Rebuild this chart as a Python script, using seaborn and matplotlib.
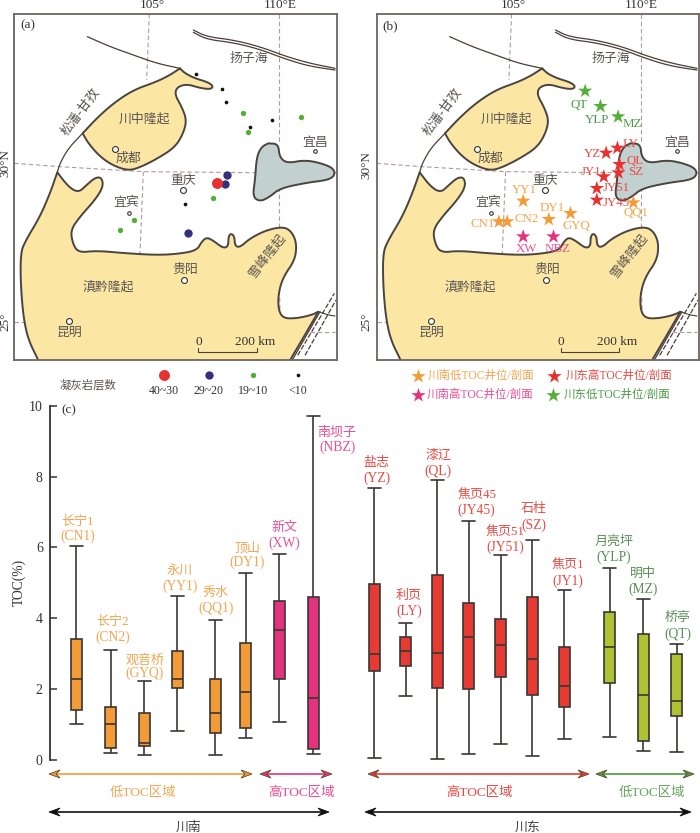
import numpy as np
import pandas as pd
import matplotlib
matplotlib.use("Agg")
import matplotlib.pyplot as plt
from matplotlib.patches import Polygon
import seaborn as sns

sns.set_theme(style="ticks")
FONT = ["Liberation Serif", "Noto Sans CJK SC", "DejaVu Sans"]
plt.rcParams["font.family"] = FONT

# ---------- box chart values ----------
wells = ["CN1", "CN2", "GYQ", "YY1", "QQ1", "DY1", "XW", "NBZ", "YZ", "LY", "QL",
         "JY45", "JY51", "SZ", "JY1", "YLP", "MZ", "QT"]
names = ["长宁1", "长宁2", "观音桥", "永川", "秀水", "顶山", "新文", "南坝子", "盐志", "利页", "漆辽",
         "焦页45", "焦页51", "石柱", "焦页1", "月亮坪", "明中", "桥亭"]
regions = ["sl"] * 6 + ["sh"] * 2 + ["eh"] * 7 + ["el"] * 3
toc_max = [6.05, 3.10, 2.22, 4.63, 3.96, 5.28, 5.82, 9.70, 7.69, 3.88, 7.89, 6.74, 5.80, 6.22, 4.80, 5.41, 4.55, 3.26]
toc_q3 = [3.41, 1.50, 1.34, 3.07, 2.30, 3.29, 4.48, 4.61, 4.97, 3.46, 5.22, 4.43, 3.98, 4.59, 3.19, 4.18, 3.57, 2.99]
toc_med = [2.28, 1.02, 0.48, 2.28, 1.33, 1.91, 3.67, 1.75, 2.99, 3.07, 3.01, 3.46, 3.25, 2.86, 2.10, 3.19, 1.83, 1.67]
toc_q1 = [1.40, 0.35, 0.39, 2.03, 0.77, 0.91, 2.28, 0.32, 2.51, 2.66, 2.02, 2.00, 2.35, 1.84, 1.51, 2.16, 0.53, 1.25]
toc_min = [1.02, 0.20, 0.13, 0.82, 0.14, 0.63, 1.08, 0.17, 0.06, 1.81, 0.03, 0.17, 0.44, 0.11, 0.59, 0.65, 0.24, 0.23]

box_x = [76.3, 110.7, 144, 177, 215.3, 245.7, 279.3, 313, 374, 405.7, 437.3, 468.7, 500.7, 532.3, 564, 609.7, 643, 676.7]
label_x = [78, 112.7, 144.7, 180, 216, 247, 284, 337, 376.7, 409, 438, 476.7, 505, 534, 568, 614, 643, 678]
name_y = [521.7, 621.7, 660.7, 571, 592.7, 548, 528, 432, 463, 596, 456, 495.7, 532.7, 509, 565.7, 541.7, 573.7, 618]
code_y = [536.7, 637, 673.5, 586.7, 608, 562.7, 543, 447, 478.7, 611, 471.7, 510, 547, 525, 581.7, 557, 589, 634]

BOX = {"sl": "#F39B36", "sh": "#E5327E", "eh": "#E63A33", "el": "#AEC233"}
LAB = {"sl": "#F4A650", "sh": "#EA4F93", "eh": "#E94A42", "el": "#5A8F58"}

# ---------- map outlines (panel a pixel grid) ----------
central_uplift = [(540, 205), (540, 205), (510, 225), (470, 245), (400, 270), (340, 310), (290, 355), (248, 400), (248, 400),
                  (265, 430), (300, 470), (340, 497), (385, 512), (420, 502), (470, 477), (525, 442), (550, 400),
                  (560, 360), (545, 320), (525, 285), (530, 262), (560, 252), (600, 264), (632, 268), (640, 258),
                  (622, 246), (585, 235), (555, 220), (540, 205)]
south_uplift = [(172, 517), (172, 517), (150, 580), (120, 650), (75, 725), (62, 760), (62, 850), (70, 950), (85, 1020),
                (115, 1080), (115, 1085), (115, 1090), (870, 1090), (870, 1085), (870, 1080), (900, 1030), (955, 935), (955, 935),
                (935, 945), (890, 955), (850, 955), (835, 930), (835, 880), (850, 830), (885, 780), (890, 730),
                (875, 695), (850, 680), (800, 690), (750, 715), (720, 742), (705, 738), (703, 708), (692, 700),
                (685, 712), (685, 738), (670, 745), (640, 722), (620, 712), (605, 725), (590, 752), (530, 762),
                (470, 765), (380, 760), (290, 752), (235, 758), (218, 730), (212, 690), (240, 650), (285, 600),
                (310, 560), (305, 532), (285, 533), (260, 555), (235, 578), (205, 560), (172, 517)]
lake = [(805, 430), (835, 432), (838, 470), (860, 490), (915, 480), (965, 490), (1000, 505), (1005, 525), (985, 540),
        (920, 548), (840, 565), (810, 590), (780, 605), (758, 590), (765, 540), (770, 470), (785, 440), (805, 430)]
north_arc = [(262, 110), (330, 140), (400, 165), (470, 190), (540, 205)]
west_arc = [(248, 400), (205, 445), (180, 490), (172, 517)]
yangtze_a = [(580, 90), (620, 110), (700, 120), (780, 140), (860, 170), (930, 190), (1005, 205)]
yangtze_b = [(580, 97), (620, 118), (700, 128), (780, 148), (850, 175), (925, 198), (1005, 210)]
se_tail = [(955, 935), (985, 945), (1005, 948)]
fault_a = [(878, 1078), (960, 935)]
fault_b = [(893, 1066), (1003, 880)]
fault_c = [(915, 1066), (1008, 900)]
grid_paths = [[(43, 490), (180, 500), (430, 515), (760, 518), (1010, 518)],
              [(448, 42), (440, 240)], [(430, 515), (420, 760)],
              [(838, 42), (838, 430)], [(838, 560), (838, 680)], [(838, 850), (840, 940)],
              [(43, 967), (75, 967)], [(930, 997), (1005, 997)]]
cities = [("成都", 344, 447, 385, 476, 5), ("重庆", 548, 570, 550, 543, 5), ("宜宾", 386, 638, 378, 610, 3),
          ("贵阳", 551, 840, 555, 810, 5), ("昆明", 206, 962, 207, 998, 5), ("宜昌", 946, 453, 946, 428, 3)]
map_labels = [("川中隆起", 432, 358, 0), ("滇黔隆起", 325, 862, 0), ("扬子海", 745, 176, 0),
              ("松潘-甘孜", 243, 337, 53), ("雪峰隆起", 802, 767, 52)]

# ---------- tuff layer counts (panel a) ----------
tuff_x = [587, 666, 677, 817, 750, 554, 728, 902, 745, 638, 401, 361, 680, 676, 564, 652]
tuff_y = [221, 267, 306, 360, 382, 611, 338, 351, 397, 595, 661, 689, 526, 553, 699, 549]
tuff_cls = ["<10"] * 6 + ["19~10"] * 6 + ["29~20"] * 3 + ["40~30"]
TUFF_COL = {"40~30": "#E8302E", "29~20": "#33317F", "19~10": "#55AE3A", "<10": "#111111"}
TUFF_S = {"40~30": 62, "29~20": 36, "19~10": 15, "<10": 7}

# ---------- wells on panel b ----------
star_code = ["YY1", "CN1", "CN2", "DY1", "GYQ", "QQ1", "XW", "NBZ", "LY", "YZ", "QL", "SZ", "JY1", "JY51", "JY45", "QT", "YLP", "MZ"]
star_x = [520, 447, 472, 597, 662, 851, 520, 611, 803, 769, 809, 806, 762, 741, 741, 706, 752, 805]
star_y = [603, 665, 665, 658, 640, 608, 710, 710, 444, 459, 493, 518, 530, 565, 600, 273, 319, 350]
star_reg = ["sl"] * 6 + ["sh"] * 2 + ["eh"] * 7 + ["el"] * 3
code_lx = [523, 398, 531, 607, 680, 860, 530, 623, 842, 727, 857, 857, 723, 800, 800, 687, 741, 847]
code_ly = [570, 672, 658, 623, 677, 640, 748, 748, 432, 463, 482, 516, 515, 565, 608, 316, 360, 372]
STAR = {"sl": "#F39B36", "sh": "#E5327E", "eh": "#E8302E", "el": "#55AE3A"}
STAR_T = {"sl": "#F4A650", "sh": "#EA4F93", "eh": "#E94A42", "el": "#4C9A48"}
STAR_SIZE = 118

W, H = 700, 833
fig = plt.figure(figsize=(W / 100, H / 100), dpi=100, facecolor="white")


def px_axes(x0, y0, x1, y1):
    return fig.add_axes([x0 / W, 1 - y1 / H, (x1 - x0) / W, (y1 - y0) / H])


def chaikin(pts, n=3):
    p = np.array(pts, float)
    for _ in range(n):
        q = p[:-1] * 0.75 + p[1:] * 0.25
        r = p[:-1] * 0.25 + p[1:] * 0.75
        p = np.vstack([p[:1], np.column_stack([q, r]).reshape(-1, 2), p[-1:]])
    return p


def draw_map(ax, dx):
    for g in grid_paths:
        a = np.array(g, float)
        ax.plot(a[:, 0] + dx, a[:, 1], color="#B09A9A", lw=0.8, ls=(0, (4, 2.5)), zorder=1)
    for poly, fc in ((central_uplift, "#FBE6A3"), (south_uplift, "#FBE6A3"), (lake, "#C3D0D0")):
        s = chaikin(poly) + [dx, 0]
        ax.add_patch(Polygon(s, closed=True, fc=fc, ec="#4A4440", lw=1.4, zorder=2, joinstyle="round"))
    for ln, lw in ((north_arc, 0.9), (west_arc, 0.9), (yangtze_a, 0.9), (yangtze_b, 0.9), (se_tail, 0.8)):
        s = chaikin(ln) + [dx, 0]
        ax.plot(s[:, 0], s[:, 1], color="#4A3E38", lw=lw, zorder=3)
    a = np.array(fault_a, float)
    ax.plot(a[:, 0] + dx, a[:, 1], color="#4A3E38", lw=0.9, zorder=3)
    for ln in (fault_b, fault_c):
        a = np.array(ln, float)
        ax.plot(a[:, 0] + dx, a[:, 1], color="#4A3E38", lw=0.9, ls=(0, (4, 1.5)), zorder=3)
    for nm, cx, cy, tx, ty, sz in cities:
        ax.plot(cx + dx, cy, "o", ms=sz * 0.85, mfc="white", mec="#333333", mew=0.8, zorder=4)
        ax.text(tx + dx, ty, nm, ha="center", va="center", fontsize=9.3, color="#5A5551", zorder=5)
    for nm, tx, ty, rot in map_labels:
        ax.text(tx + dx, ty, nm, ha="center", va="center", rotation=rot,
                fontsize=9.3, color="#5A5551", zorder=5)
    ax.plot(np.array([595, 595, 770, 770]) + dx, [1045, 1055, 1055, 1045], color="#4A4440", lw=0.8, zorder=5)
    ax.text(597 + dx, 1025, "0", ha="center", va="center", fontsize=9.5, color="#333333", zorder=5)
    ax.text(766 + dx, 1025, "200 km", ha="center", va="center", fontsize=9.5, color="#333333", zorder=5)
    ax.set_xlim(43 + dx, 1010 + dx)
    ax.set_ylim(1080, 42)
    ax.set_xticks([])
    ax.set_yticks([])
    ax.set_xlabel("")
    ax.set_ylabel("")
    for sp in ax.spines.values():
        sp.set_color("#6E655F")
        sp.set_linewidth(1.3)
        sp.set_zorder(8)


# panel (a)
ax_a = px_axes(14.3, 14, 336.7, 360)
draw_map(ax_a, 0)
df_t = pd.DataFrame({"x": tuff_x, "y": tuff_y, "c": tuff_cls})
for cls, grp in df_t.groupby("c"):
    sns.scatterplot(data=grp, x="x", y="y", color=TUFF_COL[cls], s=TUFF_S[cls], linewidth=0, ax=ax_a, zorder=6, legend=False)
ax_a.set_xlabel("")
ax_a.set_ylabel("")

# panel (b)
ax_b = px_axes(376.7, 14, 698.7, 360)
draw_map(ax_b, 37)
df_s = pd.DataFrame({"x": star_x, "y": star_y, "r": star_reg})
sns.scatterplot(data=df_s, x="x", y="y", hue="r", palette=STAR, marker="*", s=STAR_SIZE, linewidth=0, ax=ax_b, zorder=7, legend=False)
ax_b.set_xlabel("")
ax_b.set_ylabel("")
for c, lx, ly, r in zip(star_code, code_lx, code_ly, star_reg):
    ax_b.text(lx, ly, c, ha="center", va="center", fontsize=9.3, color=STAR_T[r], zorder=6)

# panel (c): five-number summaries through seaborn's own box statistics
ax_c = px_axes(49.7, 405.7, 700, 760)
ax_c.patch.set_visible(False)
rows = []
for i, w in enumerate(wells):
    for v in (toc_min[i], toc_q1[i], toc_med[i], toc_q3[i], toc_max[i]):
        rows.append({"pos": box_x[i], "toc": v, "region": regions[i]})
df_box = pd.DataFrame(rows)
min_gap = np.min(np.diff(sorted(box_x)))
sns.boxplot(data=df_box, x="pos", y="toc", hue="region", palette=BOX, native_scale=True, dodge=False,
            width=11 / min_gap, whis=(0, 100), linecolor="#3A3632", linewidth=1.2, legend=False,
            capwidths=13, ax=ax_c, saturation=1)
ax_c.set_xlim(49.7, 700)
ax_c.set_ylim(0, 10)
ax_c.set_xlabel("")
ax_c.set_ylabel("")
ax_c.set_xticks([])
ax_c.set_yticks(np.arange(0, 11, 2))
ax_c.tick_params(axis="y", direction="in", length=5, width=1.1, color="#333333", labelsize=10,
                 labelcolor="#333333", pad=5)
sns.despine(ax=ax_c, top=True, right=True, bottom=True)
ax_c.spines["left"].set_color("#333333")
ax_c.spines["left"].set_linewidth(1.3)

# overlay in figure pixels for all the annotation text
ov = fig.add_axes([0, 0, 1, 1], zorder=10)
ov.set_xlim(0, W)
ov.set_ylim(H, 0)
ov.axis("off")

ov.text(27.7, 25.7, "(a)", ha="center", va="center", fontsize=9.5, color="#333333")
ov.text(390, 26, "(b)", ha="center", va="center", fontsize=9.5, color="#333333")
ov.text(69, 410, "(c)", ha="center", va="center", fontsize=9.5, color="#333333")
for x, t in ((152.7, "105°"), (280, "110°E"), (513, "105°"), (641.7, "110°E")):
    ov.text(x, 5, t, ha="center", va="center", fontsize=9.5, color="#333333")
for x, y, t in ((5, 163, "30°N"), (5, 322, "25°"), (366.7, 165, "30°N"), (366.7, 322, "25°")):
    ov.text(x, y, t, ha="center", va="center", rotation=90, fontsize=9.5, color="#333333")
ov.text(19, 582, "TOC(%)", ha="center", va="center", rotation=90, fontsize=9.8, color="#333333")

for i in range(len(wells)):
    c = LAB[regions[i]]
    ov.text(label_x[i], name_y[i], names[i], ha="center", va="center", fontsize=9.4, color=c)
    ov.text(label_x[i], code_y[i], f"({wells[i]})", ha="center", va="center", fontsize=9.8, color=c)

# legend of panel a
legend_cls = ["40~30", "29~20", "19~10", "<10"]
legend_x = [164, 208.7, 253, 297.7]
for cls, x in zip(legend_cls, legend_x):
    sns.scatterplot(x=[x], y=[375], color=TUFF_COL[cls], s=TUFF_S[cls], linewidth=0, ax=ov, legend=False, clip_on=False)
    ov.text(x, 391, cls, ha="center", va="center", fontsize=8.6, color="#333333")
ov.text(88, 385, "凝灰岩层数", ha="center", va="center", fontsize=8.2, color="#5A5551")

# legend of panel b
leg_sx = [418, 554, 418, 553]
leg_sy = [375.5, 375.5, 394.5, 394.5]
leg_reg = ["sl", "eh", "sh", "el"]
leg_txt = ["川南低TOC井位/剖面", "川东高TOC井位/剖面", "川南高TOC井位/剖面", "川东低TOC井位/剖面"]
leg_tx = [481.5, 619.5, 480, 617.5]
for sx, sy, r, t, tx in zip(leg_sx, leg_sy, leg_reg, leg_txt, leg_tx):
    sns.scatterplot(x=[sx], y=[sy], color=STAR[r], marker="*", s=STAR_SIZE, linewidth=0, ax=ov, legend=False, clip_on=False)
    ov.text(tx, sy + 0.5, t, ha="center", va="center", fontsize=8.3, color=STAR_T[r])
ov.set_xlim(0, W)
ov.set_ylim(H, 0)
ov.set_xlabel("")
ov.set_ylabel("")

# region spans
spans = [(49, 252, 774, BOX["sl"]), (260, 332, 774, BOX["sh"]), (368, 589, 774, BOX["eh"]), (596, 694, 774, "#4F9A45"),
         (49, 329, 812, "#111111"), (365, 691, 812, "#111111")]
HEAD_LEN, HEAD_HALF, HEAD_NOTCH = 11, 4, 7
for x0, x1, y, c in spans:
    ek = "#111111" if c == "#111111" else "#5A4A30"
    ov.plot([x0 + HEAD_NOTCH, x1 - HEAD_NOTCH], [y, y], color=c, lw=1.2, solid_capstyle="butt", zorder=2)
    for tip, d in ((x0, 1), (x1, -1)):
        head = [(tip, y), (tip + d * HEAD_LEN, y - HEAD_HALF), (tip + d * HEAD_NOTCH, y), (tip + d * HEAD_LEN, y + HEAD_HALF)]
        ov.add_patch(Polygon(head, closed=True, fc=c, ec=ek, lw=0.6, zorder=3))
span_text = [(143, "低TOC区域", "sl"), (301, "高TOC区域", "sh"), (479, "高TOC区域", "eh"), (652, "低TOC区域", "el")]
for x, t, r in span_text:
    ov.text(x, 792.7, t, ha="center", va="center", fontsize=9.6, color="#62A85A" if r == "el" else LAB[r])
for x, t in ((189, "川南"), (528, "川东")):
    ov.text(x, 827.5, t, ha="center", va="center", fontsize=9.3, color="#444444")

fig.savefig("out.png", dpi=100)
